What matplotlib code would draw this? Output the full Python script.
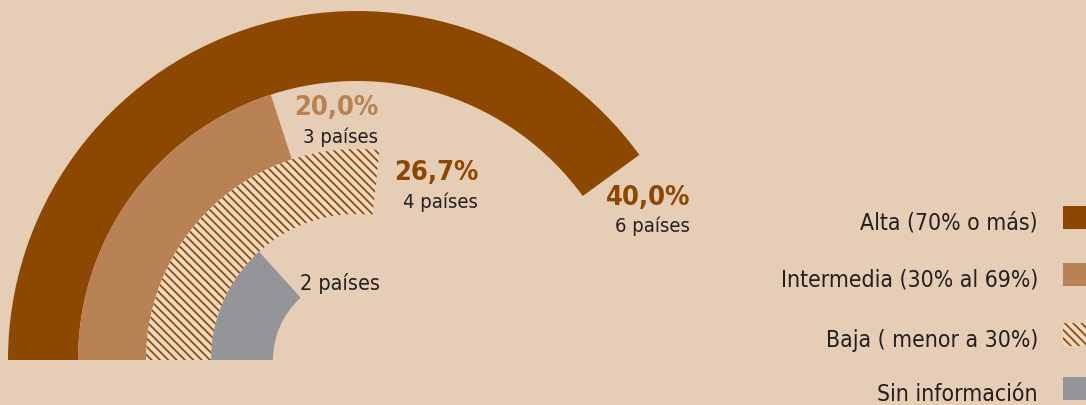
import matplotlib
matplotlib.use("Agg")
import matplotlib.pyplot as plt
from matplotlib.patches import Wedge, Rectangle

# ---- data ----
categories = ['Alta (70% o más)', 'Intermedia (30% al 69%)', 'Baja ( menor a 30%)', 'Sin información']
percent = [40.0, 20.0, 26.7, 13.3]
countries = [6, 3, 4, 2]
show_pct = [True, True, True, False]

# ---- style ----
BG = '#E5CDB6'
DARK = '#8C4700'
LIGHT = '#B98255'
GRAY = '#939598'
TXT = '#231F20'
face_colors = [DARK, LIGHT, '#EFDAC4', GRAY]
edge_colors = [DARK, LIGHT, '#934E0C', GRAY]
hatches = [None, None, '\\\\\\\\', None]
label_colors = [DARK, LIGHT, DARK, TXT]

plt.rcParams['font.family'] = ['DejaVu Sans']
plt.rcParams['font.stretch'] = 'condensed'
plt.rcParams['hatch.linewidth'] = 1.3

W, H = 1086, 406
fig = plt.figure(figsize=(W / 100, H / 100), dpi=100, facecolor=BG)
ax = fig.add_axes([0, 0, 1, 1])
ax.set_xlim(0, W)
ax.set_ylim(0, H)
ax.set_facecolor(BG)
ax.axis('off')

center = (357, H - 361)
outer_r = [349, 279, 211, 146]
widths = [70, 68, 65, 62]

for i in range(len(categories)):
    sweep = percent[i] / 100 * 360
    w = Wedge(center, outer_r[i], 180 - sweep, 180, width=widths[i],
              facecolor=face_colors[i], edgecolor=edge_colors[i],
              hatch=hatches[i], linewidth=0)
    ax.add_patch(w)

# value labels (right aligned; pixel layout positions, y from top)
lab_x = [690, 378, 478, 380]
pct_base = [205, 115, 180, None]
cnt_base = [232, 143, 208, 290]
cnt_size = [14.5, 14.5, 14.5, 15.5]
for i in range(len(categories)):
    if show_pct[i]:
        ax.text(lab_x[i], H - pct_base[i], f"{percent[i]:.1f}%".replace('.', ','),
                ha='right', va='baseline', fontsize=19.5, fontweight='bold',
                fontstretch='condensed', color=label_colors[i])
    ax.text(lab_x[i], H - cnt_base[i], f"{countries[i]} países",
            ha='right', va='baseline', fontsize=cnt_size[i],
            fontstretch='condensed', color=TXT)

# legend (text left of swatch)
leg_base = [230, 287, 347, 401]
for i, cat in enumerate(categories):
    yb = H - leg_base[i]
    ax.text(1038, yb, cat, ha='right', va='baseline', fontsize=16.5,
            fontstretch='condensed', color=TXT)
    ax.add_patch(Rectangle((1063, yb), 30, 23, facecolor=face_colors[i],
                           edgecolor=edge_colors[i], hatch=hatches[i], linewidth=0))

fig.savefig('out.png', dpi=100, facecolor=BG)
